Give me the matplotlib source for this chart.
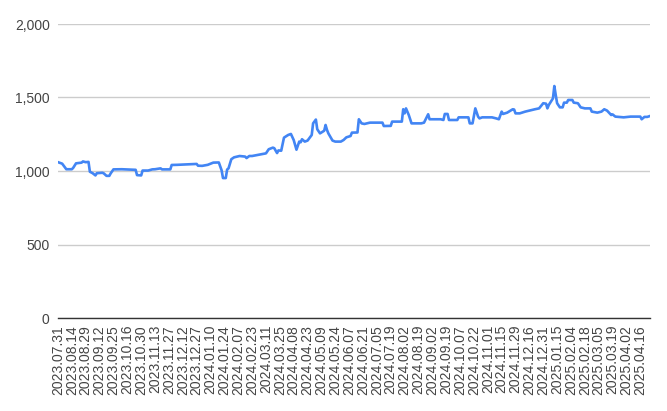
import matplotlib
matplotlib.use("Agg")
import matplotlib.pyplot as plt
from matplotlib.ticker import FuncFormatter

# trading-day index (x) and value
day_idx = [0, 3, 6, 10, 11, 13, 17, 18, 20, 22, 23, 25, 27, 28, 32, 33, 35, 37, 38, 40,
           46, 56, 57, 60, 61, 65, 68, 70, 74, 75, 81, 82, 86, 100, 101, 104, 108, 112, 116,
           118, 119, 121, 122, 123, 125, 127, 131, 135, 136, 138, 140, 144, 150, 152, 155,
           156, 158, 159, 161, 163, 166, 168, 170, 172, 174, 175, 176, 178, 180, 183, 184,
           186, 187, 189, 192, 193, 194, 195, 198, 200, 204, 206, 208, 211, 212, 216, 217,
           219, 221, 225, 234, 235, 240, 241, 248, 249, 250, 251, 253, 255, 262, 264, 267,
           268, 276, 278, 279, 281, 282, 288, 289, 296, 297, 299, 301, 303, 304, 306, 313,
           316, 318, 320, 321, 324, 328, 329, 330, 333, 337, 344, 347, 349, 350, 352, 353,
           354, 357, 358, 359, 360, 362, 364, 365, 367, 368, 371, 372, 375, 377, 380, 384,
           385, 389, 392, 394, 396, 399, 400, 402, 408, 413, 420, 421, 423, 425, 427]
values = [1060, 1050, 1012, 1012, 1022, 1052, 1057, 1065, 1060, 1062, 995, 985, 970, 985,
          988, 984, 967, 967, 984, 1011, 1012, 1008, 972, 970, 1003, 1003, 1011, 1012, 1018,
          1011, 1011, 1041, 1042, 1048, 1036, 1035, 1042, 1057, 1058, 1005, 952, 952, 1010,
          1018, 1080, 1093, 1102, 1098, 1088, 1102, 1102, 1109, 1120, 1148, 1159, 1155,
          1122, 1140, 1138, 1227, 1245, 1252, 1211, 1145, 1200, 1195, 1216, 1200, 1207,
          1245, 1324, 1350, 1284, 1256, 1274, 1313, 1280, 1256, 1207, 1200, 1200, 1211,
          1229, 1238, 1261, 1262, 1352, 1324, 1320, 1329, 1329, 1306, 1307, 1336, 1336,
          1420, 1392, 1426, 1381, 1324, 1324, 1329, 1386, 1352, 1352, 1347, 1388, 1388,
          1347, 1347, 1365, 1365, 1324, 1324, 1426, 1370, 1358, 1365, 1365, 1358, 1352,
          1404, 1388, 1397, 1420, 1418, 1392, 1392, 1404, 1420, 1426, 1449, 1461, 1458,
          1426, 1449, 1494, 1578, 1517, 1461, 1433, 1433, 1465, 1465, 1483, 1483, 1465,
          1461, 1433, 1426, 1426, 1404, 1397, 1404, 1420, 1411, 1381, 1385, 1370, 1365,
          1370, 1370, 1352, 1368, 1368, 1374]

# one label every 10 trading days
tick_labels = ["2023.07.31", "2023.08.14", "2023.08.29", "2023.09.12", "2023.09.25",
               "2023.10.16", "2023.10.30", "2023.11.13", "2023.11.27", "2023.12.12",
               "2023.12.27", "2024.01.10", "2024.01.24", "2024.02.07", "2024.02.23",
               "2024.03.11", "2024.03.25", "2024.04.08", "2024.04.23", "2024.05.09",
               "2024.05.24", "2024.06.07", "2024.06.21", "2024.07.05", "2024.07.19",
               "2024.08.02", "2024.08.19", "2024.09.02", "2024.09.19", "2024.10.07",
               "2024.10.22", "2024.11.01", "2024.11.15", "2024.11.29", "2024.12.16",
               "2024.12.31", "2025.01.15", "2025.02.04", "2025.02.18", "2025.03.05",
               "2025.03.19", "2025.04.02", "2025.04.16"]
tick_pos = [i * 10 for i in range(len(tick_labels))]
y_ticks = [0, 500, 1000, 1500, 2000]

plt.rcParams["font.family"] = ["Liberation Sans", "DejaVu Sans"]

fig = plt.figure(figsize=(6.67, 4.11), dpi=100)
ax = fig.add_axes([58 / 667, 1 - 318 / 411, 592 / 667, 294 / 411])

ax.plot(day_idx, values, color="#4285F4", linewidth=1.9, solid_joinstyle="round", zorder=3)

ax.set_xlim(0, day_idx[-1])
ax.set_ylim(0, 2000)
ax.set_yticks(y_ticks)
ax.yaxis.set_major_formatter(FuncFormatter(lambda v, p: f"{v:,.0f}"))
ax.set_xticks(tick_pos)
ax.set_xticklabels(tick_labels, rotation=90, fontsize=10, color="#444444")
ax.tick_params(axis="y", labelsize=10, labelcolor="#444444", length=0, pad=6)
ax.tick_params(axis="x", length=0, pad=5)

ax.yaxis.grid(True, color="#cccccc", linewidth=1, zorder=0)
ax.set_axisbelow(True)
for s in ["top", "right", "left"]:
    ax.spines[s].set_visible(False)
ax.spines["bottom"].set_color("#333333")
ax.spines["bottom"].set_linewidth(1)

fig.savefig("out.png", dpi=100, facecolor="white")
